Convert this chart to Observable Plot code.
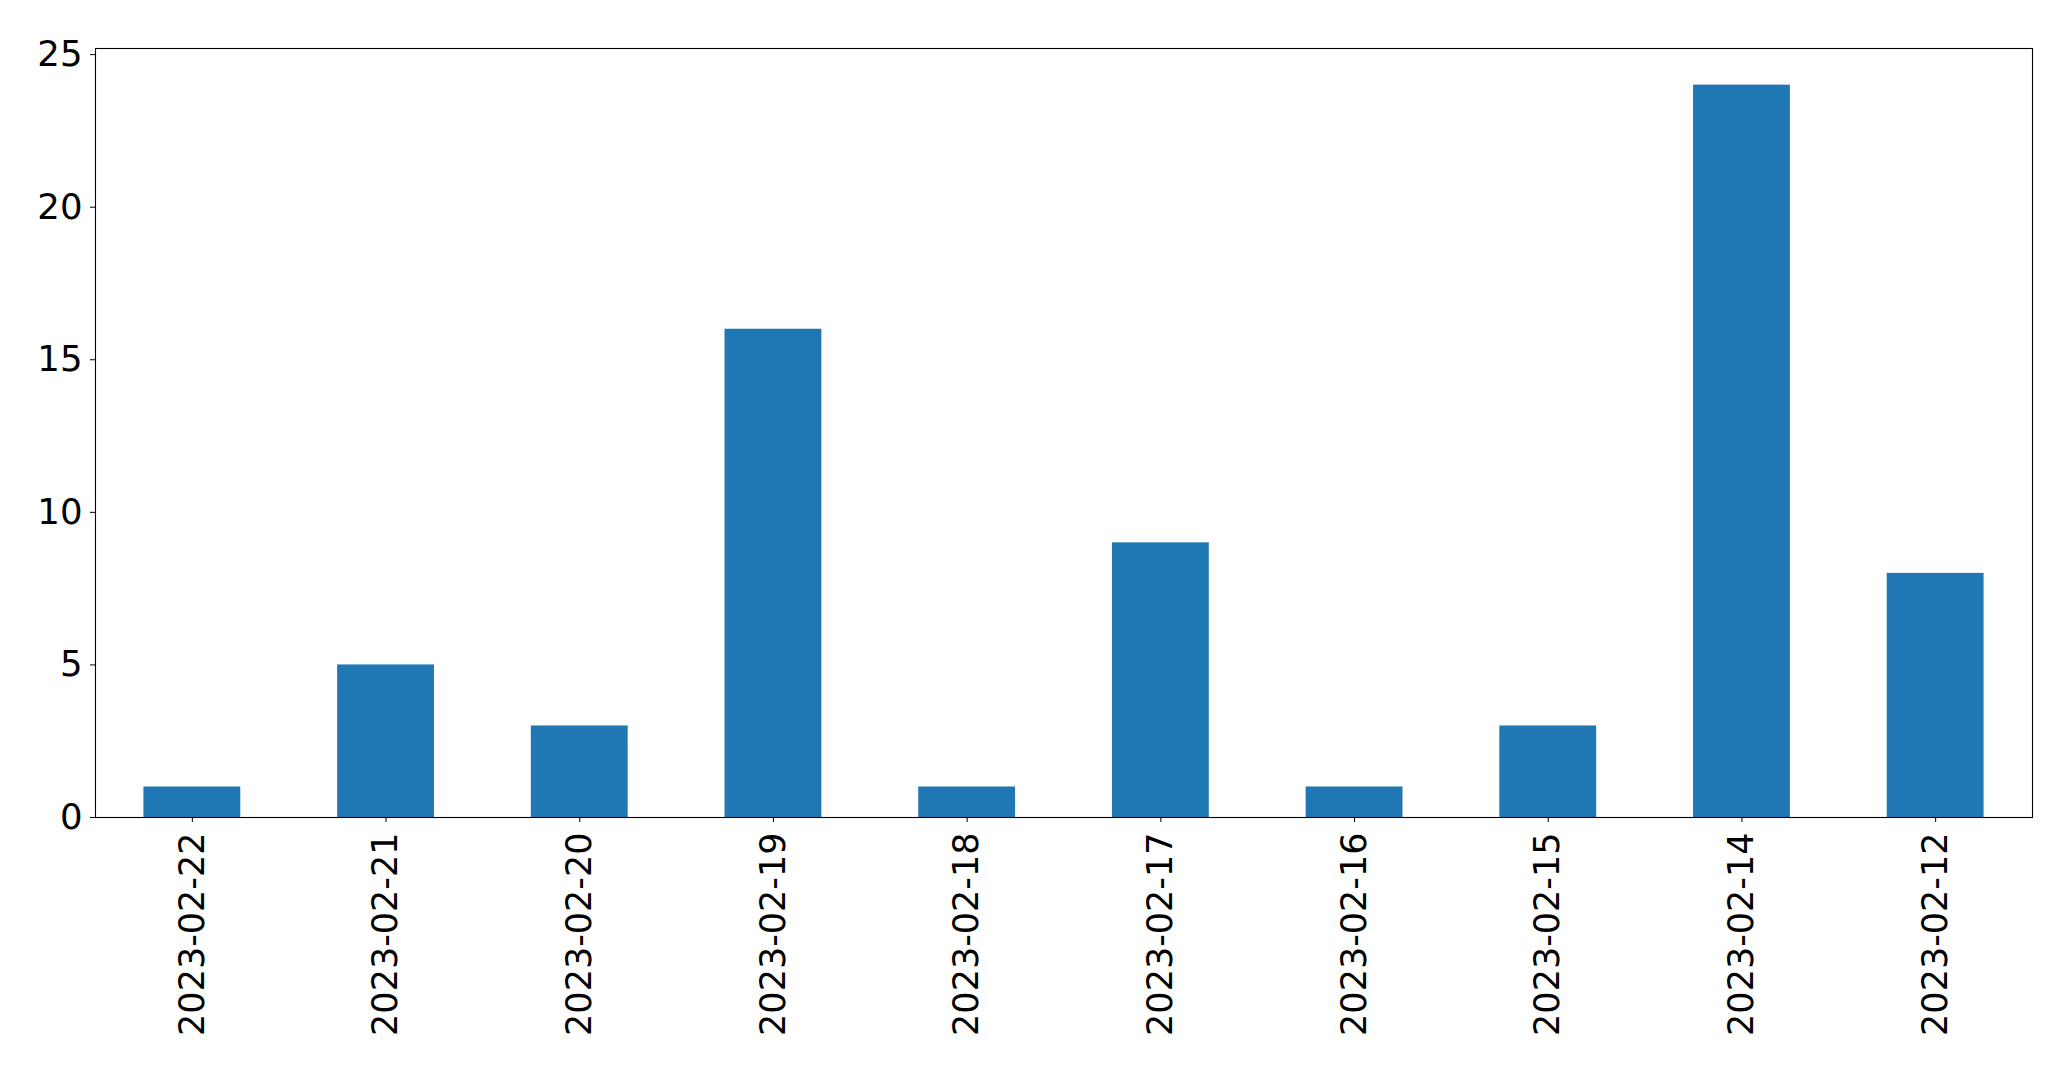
<!DOCTYPE html>
<html>
<head>
<meta charset="utf-8">
<script src="https://cdn.jsdelivr.net/npm/d3@7"></script>
<script src="https://cdn.jsdelivr.net/npm/@observablehq/plot@0.6"></script>
<style>
  html, body { margin: 0; padding: 0; background: #fff; }
  svg { display: block; }
</style>
</head>
<body>
<div id="chart"></div>
<script>
const dates = ["2023-02-22","2023-02-21","2023-02-20","2023-02-19","2023-02-18","2023-02-17","2023-02-16","2023-02-15","2023-02-14","2023-02-12"];
const counts = [1, 5, 3, 16, 1, 9, 1, 3, 24, 8];
const yTicks = [0, 5, 10, 15, 20, 25];

const data = dates.map((d, i) => ({date: d, count: counts[i]}));

const chart = Plot.plot({
  width: 2071,
  height: 1069,
  marginLeft: 95,
  marginRight: 39,
  marginTop: 48,
  marginBottom: 252,
  style: {fontFamily: "DejaVu Sans", fontSize: "35px", color: "#000", background: "#fff"},
  x: {domain: dates, paddingInner: 0.5, paddingOuter: 0.25, align: 0.5, round: false, label: null},
  y: {domain: [0, 25.2], label: null},
  marks: [
    Plot.barY(data, {x: "date", y: "count", fill: "#1f77b4"}),
    Plot.axisY({ticks: yTicks, tickSize: 5, tickPadding: 8, fontSize: 35.5, label: null, stroke: "#000"}),
    Plot.axisX({tickSize: 5, tickPadding: 10, tickRotate: -90, fontSize: 35, label: null, stroke: "#000"}),
    Plot.frame({stroke: "#000", strokeWidth: 1.1})
  ]
});
document.getElementById("chart").appendChild(chart);
</script>
</body>
</html>
